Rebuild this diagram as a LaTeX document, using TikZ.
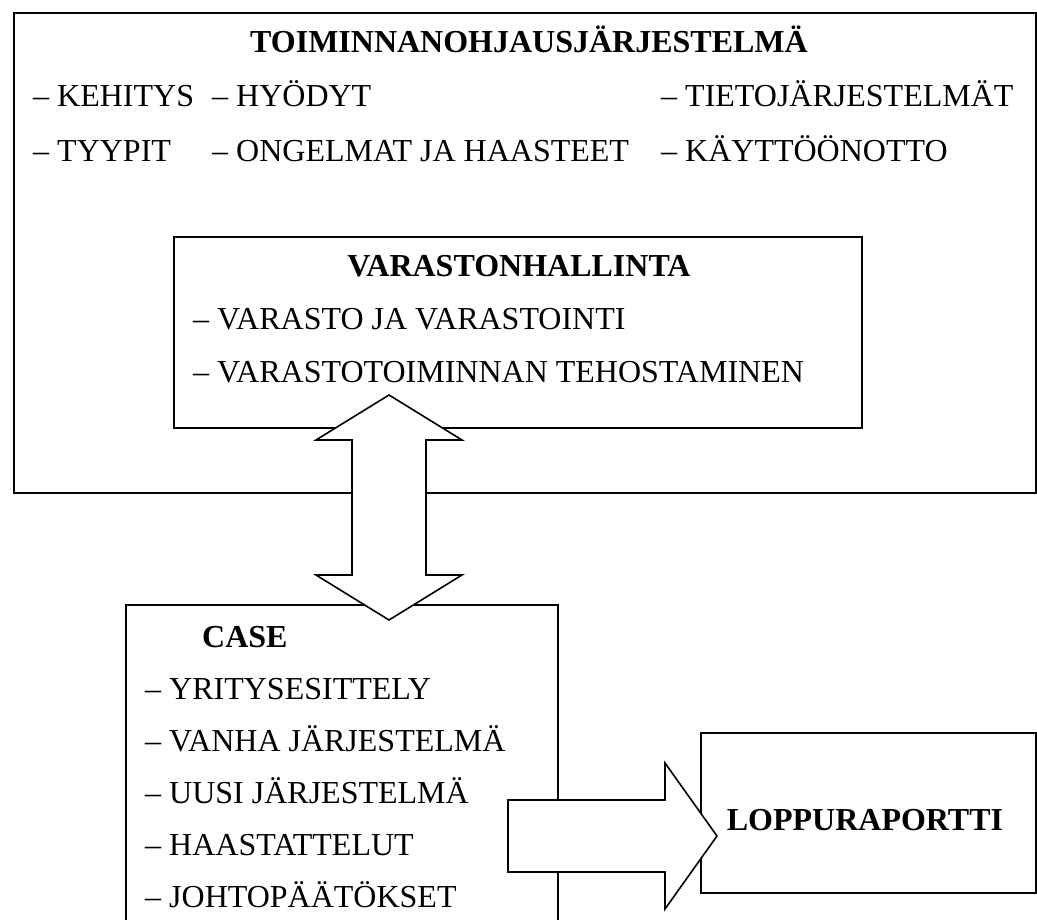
\documentclass[tikz,border=0pt]{standalone}
\usepackage{fontspec}
\setmainfont{Liberation Serif}
\usetikzlibrary{calc}
\tikzset{
  boxframe/.style={draw=black, line width=1.6pt, anchor=north west, inner sep=0pt},
  blockarrow/.style={draw=black, fill=white, line width=1.6pt, line join=miter},
  txt/.style={inner sep=0pt, anchor=base west, font=\fontsize{32}{38}\selectfont},
  ttl/.style={inner sep=0pt, anchor=base, font=\fontsize{32}{38}\selectfont\bfseries},
}
\begin{document}
\begin{tikzpicture}[x=1pt,y=-1pt]
\clip (0,0) rectangle (1037,920);
\fill[white] (0,0) rectangle (1037,920);

% frames
\node[boxframe, minimum width=1022pt, minimum height=480pt] (outer) at (13,12) {};
\node[boxframe, minimum width=688pt, minimum height=191pt] (varasto) at (173,236) {};
\node[boxframe, minimum width=432pt, minimum height=320pt] (case) at (125,604) {};
\node[boxframe, minimum width=335pt, minimum height=160pt] (loppu) at (700,732) {};

% top box texts
\node[ttl] (t1) at (529,53) {TOIMINNANOHJAUSJÄRJESTELMÄ};
\node[txt] (a1) at (33,107) {– KEHITYS};
\node[txt] (a2) at (212,107) {– HYÖDYT};
\node[txt] (a3) at (661,107) {– TIETOJÄRJESTELMÄT};
\node[txt] (b1) at (33,162) {– TYYPIT};
\node[txt] (b2) at (212,162) {– ONGELMAT JA HAASTEET};
\node[txt] (b3) at (661,162) {– KÄYTTÖÖNOTTO};

% varasto texts
\node[ttl] (t2) at (519,277) {VARASTONHALLINTA};
\node[txt] (v1) at (193,330) {– VARASTO JA VARASTOINTI};
\node[txt] (v2) at (193,382) {– VARASTOTOIMINNAN TEHOSTAMINEN};

% case texts
\node[txt, font=\fontsize{32}{38}\selectfont\bfseries] (t3) at (202,647) {CASE};
\node[txt] (c1) at (145,699) {– YRITYSESITTELY};
\node[txt] (c2) at (145,751) {– VANHA JÄRJESTELMÄ};
\node[txt] (c3) at (145,803) {– UUSI JÄRJESTELMÄ};
\node[txt] (c4) at (145,855) {– HAASTATTELUT};
\node[txt] (c5) at (145,907) {– JOHTOPÄÄTÖKSET};

% double arrow between varasto and case
\coordinate (dtop) at (389,395);
\coordinate (dbot) at (389,620);
\draw[blockarrow] (dtop) -- ++(73,45) -- ++(-36,0) -- ($(dbot)+(37,-45)$) -- ++(36,0)
  -- (dbot) -- ++(-73,-45) -- ++(36,0) -- ($(dtop)+(-37,45)$) -- ++(-36,0) -- cycle;

% right arrow from case to loppuraportti
\coordinate (rtail) at (508,836);
\coordinate (rtip) at (717,836);
\draw[blockarrow] ($(rtail)+(0,-36)$) -- ($(rtip)+(-52,-36)$) -- ++(0,-37) -- (rtip)
  -- ($(rtip)+(-52,73)$) -- ++(0,-37) -- ($(rtail)+(0,36)$) -- cycle;

\node[ttl] (t4) at (865,830) {LOPPURAPORTTI};
\end{tikzpicture}
\end{document}
